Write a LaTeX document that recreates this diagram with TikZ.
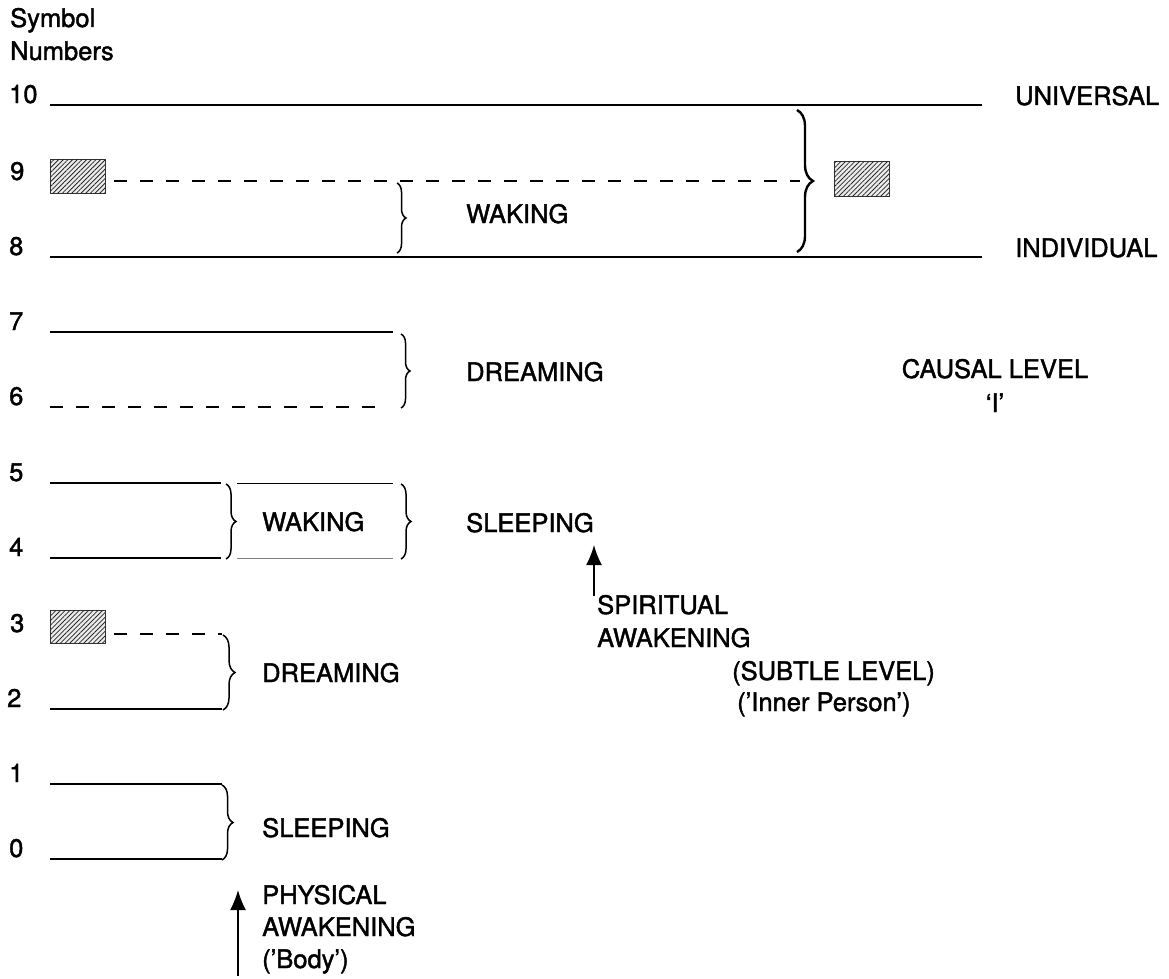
\documentclass[tikz,border=0pt]{standalone}
\usepackage{fontspec}
\setmainfont[FakeBold=1.6]{TeX Gyre Heros}
\usetikzlibrary{arrows.meta,positioning,patterns.meta,decorations.pathreplacing}

\begin{document}
\begin{tikzpicture}[x=1pt,y=-1pt,
txt/.style={anchor=base west,inner sep=0pt,align=left,font=\fontsize{25.5}{33}\selectfont},
lvl/.style={line width=2.6pt},
dashlvl/.style={line width=2.6pt,dash pattern=on 13pt off 13pt},
thinlvl/.style={line width=1pt},
awake/.style={-{Latex[length=20pt,width=16pt]},line width=1.6pt},
brc/.style={decorate,decoration={brace,amplitude=#1},line width=1.5pt},
hatchbox/.style={draw=gray!40!black,line width=1pt,fill=gray!15,
  postaction={pattern={Lines[angle=45,distance=3.3pt,line width=0.8pt]},pattern color=gray!30!black}}]
\useasboundingbox (0,0) rectangle (1169,979);

% levels
\draw[lvl] (50,105) -- (982,105);
\draw[dashlvl] (114,181) -- (800,181);
\draw[lvl] (50,257) -- (982,257);
\draw[lvl] (50,332) -- (393,332);
\draw[dashlvl] (50,407) -- (383,407);
\draw[lvl] (50,483) -- (221,483);
\draw[lvl] (50,558) -- (221,558);
\draw[thinlvl] (237,483) -- (393,483);
\draw[thinlvl,gray] (237,558) -- (393,558);
\draw[dashlvl] (114,634) -- (222,634);
\draw[lvl] (50,709) -- (222,709);
\draw[lvl] (50,784) -- (222,784);
\draw[lvl] (50,859) -- (222,859);

\draw[hatchbox] (50,159) rectangle (105,193);
\draw[hatchbox] (834,161) rectangle (889,196);
\draw[hatchbox] (50,610) rectangle (105,643);

% braces
\draw[brc=9pt] (397,183) -- (397,253);
\draw[brc=16pt,line width=2.4pt] (797,110) -- (797,252);
\draw[brc=9pt] (401,334) -- (401,408);
\draw[brc=10pt] (226,484) -- (226,559);
\draw[brc=10pt] (401,484) -- (401,559);
\draw[brc=12pt] (223,635) -- (223,710);
\draw[brc=11pt] (222,785) -- (222,860);

% numbers (multi-line texts sit on their last line)
\node[txt] (head) at (10,60) {Symbol\\Numbers};
\node[txt] (n10) at (9,103) {10};
\node[txt] (n9) at (10,180) {9};
\node[txt] (n8) at (9,255) {8};
\node[txt] (n7) at (9,330) {7};
\node[txt] (n6) at (9,405) {6};
\node[txt] (n5) at (9,481) {5};
\node[txt] (n4) at (9,556) {4};
\node[txt] (n3) at (10,632) {3};
\node[txt] (n2) at (7,707) {2};
\node[txt] (n1) at (9,782) {1};
\node[txt] (n0) at (9,857) {0};

% labels
\node[txt] (univ) at (1015,105) {UNIVERSAL};
\node[txt] (indiv) at (1015,257) {INDIVIDUAL};
\node[txt] (wakehi) at (466,223) {WAKING};
\node[txt] (dreamhi) at (466,381) {DREAMING};
\node[txt,anchor=base,align=center,font=\fontsize{25.5}{34}\selectfont] (causal) at (995,412) {CAUSAL LEVEL\\‘I’};
\node[txt] (wakemid) at (262,531) {WAKING};
\node[txt] (sleepmid) at (466,532) {SLEEPING};
\node[txt] (spirit) at (597,647) {SPIRITUAL\\AWAKENING};
\node[txt,font=\fontsize{25.5}{31}\selectfont] (subtle) at (732,711) {(SUBTLE LEVEL)\\\hspace*{5pt}(’Inner Person’)};
\node[txt] (dreamlo) at (262,682) {DREAMING};
\node[txt] (sleeplo) at (262,837) {SLEEPING};
\node[txt,font=\fontsize{25.5}{32}\selectfont] (phys) at (262,968) {PHYSICAL\\AWAKENING\\(’Body’)};

% awakenings
\coordinate (sptail) at (594,596);
\coordinate (sphead) at (594,545);
\draw[awake] (sptail) -- (sphead);
\coordinate (phtail) at (238,976);
\coordinate (phhead) at (238,890);
\draw[awake] (phtail) -- (phhead);
\end{tikzpicture}
\end{document}
